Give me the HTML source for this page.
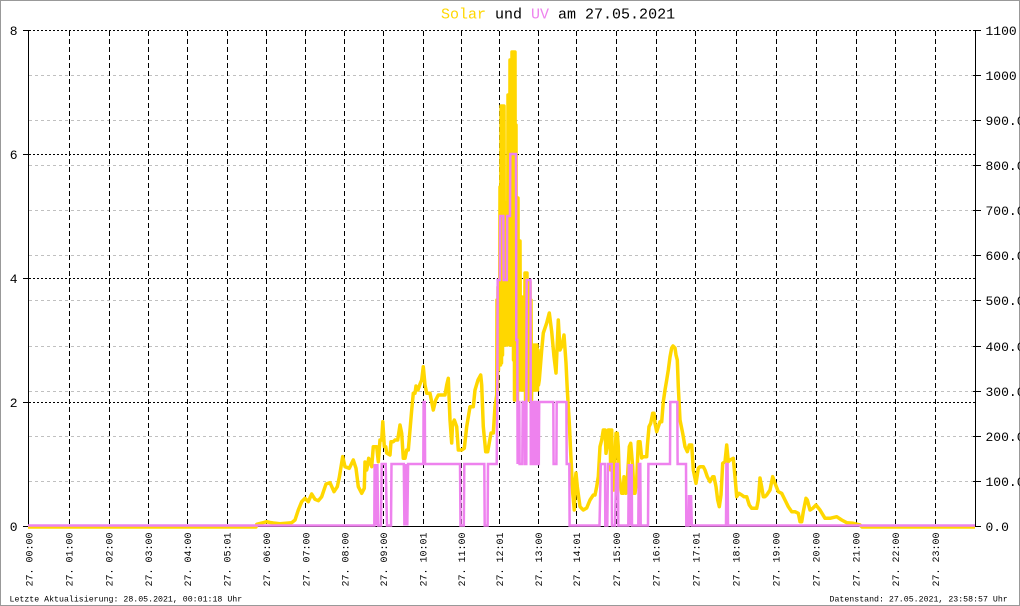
<!DOCTYPE html>
<html><head><meta charset="utf-8"><style>
html,body{margin:0;padding:0;background:#fff;}
svg{display:block;}
text{font-family:"Liberation Mono",monospace;}
</style></head><body>
<svg width="1020" height="606" viewBox="0 0 1020 606" xmlns="http://www.w3.org/2000/svg">
<rect x="0.5" y="0.5" width="1019" height="605" fill="#fff" stroke="#999" stroke-width="1"/>
<text x="441" y="18.5" font-size="15" fill="#000"><tspan fill="#ffd700">Solar</tspan> und <tspan fill="#ee82ee">UV</tspan> am 27.05.2021</text>
<g stroke="#c0c0c0" stroke-width="1" stroke-dasharray="3,3" shape-rendering="crispEdges">
<line x1="29" y1="481.5" x2="975" y2="481.5"/><line x1="29" y1="436.5" x2="975" y2="436.5"/><line x1="29" y1="391.5" x2="975" y2="391.5"/><line x1="29" y1="346.5" x2="975" y2="346.5"/><line x1="29" y1="300.5" x2="975" y2="300.5"/><line x1="29" y1="255.5" x2="975" y2="255.5"/><line x1="29" y1="210.5" x2="975" y2="210.5"/><line x1="29" y1="165.5" x2="975" y2="165.5"/><line x1="29" y1="120.5" x2="975" y2="120.5"/><line x1="29" y1="75.5" x2="975" y2="75.5"/>
</g>
<g stroke="#000" stroke-width="1" stroke-dasharray="2,2" shape-rendering="crispEdges">
<line x1="29" y1="30.5" x2="975" y2="30.5"/><line x1="29" y1="154.5" x2="975" y2="154.5"/><line x1="29" y1="278.5" x2="975" y2="278.5"/><line x1="29" y1="402.5" x2="975" y2="402.5"/>
</g>
<g stroke="#000" stroke-width="1" stroke-dasharray="5,3" shape-rendering="crispEdges">
<line x1="69.5" y1="31" x2="69.5" y2="526"/><line x1="109.5" y1="31" x2="109.5" y2="526"/><line x1="148.5" y1="31" x2="148.5" y2="526"/><line x1="187.5" y1="31" x2="187.5" y2="526"/><line x1="227.5" y1="31" x2="227.5" y2="526"/><line x1="266.5" y1="31" x2="266.5" y2="526"/><line x1="305.5" y1="31" x2="305.5" y2="526"/><line x1="344.5" y1="31" x2="344.5" y2="526"/><line x1="383.5" y1="31" x2="383.5" y2="526"/><line x1="423.5" y1="31" x2="423.5" y2="526"/><line x1="461.5" y1="31" x2="461.5" y2="526"/><line x1="499.5" y1="31" x2="499.5" y2="526"/><line x1="538.5" y1="31" x2="538.5" y2="526"/><line x1="576.5" y1="31" x2="576.5" y2="526"/><line x1="616.5" y1="31" x2="616.5" y2="526"/><line x1="656.5" y1="31" x2="656.5" y2="526"/><line x1="695.5" y1="31" x2="695.5" y2="526"/><line x1="736.5" y1="31" x2="736.5" y2="526"/><line x1="776.5" y1="31" x2="776.5" y2="526"/><line x1="816.5" y1="31" x2="816.5" y2="526"/><line x1="856.5" y1="31" x2="856.5" y2="526"/><line x1="895.5" y1="31" x2="895.5" y2="526"/><line x1="935.5" y1="31" x2="935.5" y2="526"/>
</g>
<g stroke="#000" stroke-width="1" shape-rendering="crispEdges">
<line x1="28.5" y1="30" x2="28.5" y2="527"/>
<line x1="975.5" y1="30" x2="975.5" y2="527"/>
<line x1="28" y1="526.5" x2="976" y2="526.5"/>
<line x1="23" y1="30.5" x2="28" y2="30.5"/><line x1="23" y1="154.5" x2="28" y2="154.5"/><line x1="23" y1="278.5" x2="28" y2="278.5"/><line x1="23" y1="402.5" x2="28" y2="402.5"/><line x1="23" y1="526.5" x2="28" y2="526.5"/>
<line x1="973" y1="30.5" x2="981" y2="30.5"/><line x1="973" y1="75.5" x2="981" y2="75.5"/><line x1="973" y1="120.5" x2="981" y2="120.5"/><line x1="973" y1="165.5" x2="981" y2="165.5"/><line x1="973" y1="210.5" x2="981" y2="210.5"/><line x1="973" y1="255.5" x2="981" y2="255.5"/><line x1="973" y1="300.5" x2="981" y2="300.5"/><line x1="973" y1="346.5" x2="981" y2="346.5"/><line x1="973" y1="391.5" x2="981" y2="391.5"/><line x1="973" y1="436.5" x2="981" y2="436.5"/><line x1="973" y1="481.5" x2="981" y2="481.5"/><line x1="973" y1="526.5" x2="981" y2="526.5"/>
</g>
<g font-size="13" fill="#000" text-anchor="end">
<text x="17.5" y="35">8</text><text x="17.5" y="159">6</text><text x="17.5" y="283">4</text><text x="17.5" y="407">2</text><text x="17.5" y="531">0</text>
</g>
<g font-size="13" fill="#000">
<text x="985.5" y="35">1100</text><text x="985.5" y="80">1000</text><text x="985.5" y="125">900.0</text><text x="985.5" y="170">800.0</text><text x="985.5" y="215">700.0</text><text x="985.5" y="260">600.0</text><text x="985.5" y="305">500.0</text><text x="985.5" y="351">400.0</text><text x="985.5" y="396">300.0</text><text x="985.5" y="441">200.0</text><text x="985.5" y="486">100.0</text><text x="985.5" y="531">0.0</text>
</g>
<polyline fill="none" stroke="#ffd700" stroke-width="3.5" stroke-linejoin="round" points="28,527 256,527 256.7,524.3 262,523 266.7,521.7 270,522.5 273.3,523 280,523.7 291.7,522.7 295,520 298.3,510 301.7,501.7 305,498.3 308.3,501.7 311.7,494 315,499.3 318.3,500.7 321.7,496.7 326,484 330,482.7 334,491.7 337.3,486.7 339.3,477.3 342.7,456.7 345,466.7 349.3,468.3 353.3,460 356,468.3 358.3,486.7 361.7,493.3 364.3,488.3 365,462 366.7,470 368.7,458.3 371.7,466.7 373.3,446.7 376.7,446.7 378.3,461.7 380,440 381.7,440 382.8,421.7 384.3,446.7 385.7,446.7 386.7,453 390,455 391,441.7 393.3,441.7 395,440 397.7,440 400,425 401.7,433.3 403.3,458.3 405,458.3 406.7,450 408.3,450 410,430 411.7,410 413.3,393.3 415,393.3 416,386 418,390 420,384 421.7,380 423.3,366.7 425,385 426.7,393.3 430,393.3 433.3,410 435.7,400 438.3,395 445,395 446.7,385 448.3,378.3 450,420 451.7,443 452.5,425 454.3,420 456.7,426.7 458.3,450 461.7,450 464.3,448.3 466.7,426.7 470,406.7 473.3,406.7 475,390 478,380 480.7,375 481.7,385 483.3,426.7 485.7,451.7 487.7,451.7 491,433 493.3,433 495,406.7 496.7,395 497,300 497.5,390 498,287 498.5,370 499,287 499.5,365 500,187 500.5,365 501,106 501.5,363 502,106 502.5,355 503,106 503.5,345 504,106 504.5,345 505,226 505.5,343 506,203 506.5,345 507,203 507.5,345 508,95 508.5,340 509,95 509.5,340 510,60 510.5,345 511,60 511.5,340 512,52 512.5,340 513,52 513.5,360 514,52 514.5,400 515,52 515.5,400 516,125 516.5,400 517,198 517.5,400 518,198 518.5,390 519,241 519.5,390 520,241 520.5,390 521,297 521.5,390 522,297 522.5,390 523,300 523.5,380 524,297 524.5,390 525,273 525.5,400 526,273 526.5,400 527,273 527.5,400 528,282 528.5,400 529,282 529.5,400 530,282 530.5,400 531,300 531.5,400 532,345 532.5,390 533,345 533.5,390 534,350 534.5,390 535,345 535.5,390 536,350 536.5,390 537,345 537.5,390 538,350 538.5,385 539.3,380 541.7,350 543.3,333 546.7,323 549.3,313 551.7,331.7 554,356.7 556,373 558.3,320 560,350 562.3,345 564,335 566,363 567.3,390 569.3,423 570.7,453 572.7,493 574.3,510 575.3,480 576,473 577.3,486.7 580,506.7 583.3,510 586.7,508 590,500 593.3,495 595,495 596.7,486.7 598.3,476.7 600,446.7 601.7,440 603.3,430 605,430 606,453.3 607.3,445 608.3,430 610,430 610.7,470 611.7,430 612.7,480 614,490 616,433.3 617.3,433.3 618.3,446.7 619.3,476.7 621.7,493.3 623.3,493.3 624,476.7 626,493.3 627.3,480 629.3,446.7 630.7,443.3 632.7,466.7 634,493.3 635,493.3 636.7,480 638.3,441.7 640,441.7 641.7,458 643.3,456.7 646.7,456.7 647.3,446.7 649,426.7 650.7,423.3 652.7,413.3 654,413.3 655,423.3 656.7,431.7 658.3,426.7 660,421.7 661.7,421.7 663.3,401.7 665,390 666.7,380 668.3,370 670,357 671.7,348 673,346 675,348 676,355 677.3,360 678.3,386.7 680,420 682.7,433.3 685,446.7 687.3,451.7 689.3,445 691.7,445 693.3,470 696,483.3 698.3,468.3 700,466.7 703.3,466.7 705,470 707.3,476.7 710,481.7 712.7,476.7 714,476.7 716,486.7 717.7,500 719.3,506.7 721,495 722.7,463.3 725,461.7 726.7,445 728.3,461.7 730,460 733.3,458.3 735,476.7 736.7,496.7 739,493.3 741.7,495 744,496.7 746.7,496.7 749.3,505 751.7,508.3 756.7,508.3 758.3,500 760,478 761.7,487 763.3,496.7 765,496.7 766.7,495 770,490 772.7,476.7 775,483.3 778.3,491.7 781.7,493.3 785,500 788.3,506.7 791.7,511.7 795,511.7 798.3,513.3 800,521.7 801.7,521.7 803.3,511.7 806,498.3 807.3,500 810,510 812.7,508.3 816,505 820,510 825,518.3 830,518.3 836.7,516.7 841.7,520 846.7,522.7 853.3,523.3 860,525 862,527 975,527"/>
<polyline fill="none" stroke="#ee82ee" stroke-width="2.5" points="28,525.5 374.3,525.5 374.6,464 375.3,525.5 376,464 376.7,525.5 377.4,464 378.2,525.5 381,525.5 381.7,464 385.7,464 386.3,495 387,525.5 391,525.5 391.5,464 403.8,464 404.4,525.5 405.1,464 405.8,525.5 406.5,464 407.3,525.5 408.1,464 423.3,464 423.6,402 424.8,402 425.1,464 460,464 460.5,525.5 463.8,525.5 464.3,464 484.3,464 484.7,525.5 487.6,525.5 488,464 496.7,464 497.3,403 497.7,280 499.8,280 500.2,216 503.3,216 503.6,280 506.8,280 507.2,216 510,216 510.3,154 516,154 516.3,340 517.3,340 517.6,464 518,402 519.3,402 519.6,464 522.3,464 522.7,402 524.7,402 525,464 526.3,464 526.7,280 530.5,280 530.8,464 532.4,464 532.7,402 534,402 534.3,464 536,464 536.3,402 537.3,402 537.6,464 538.8,464 539.2,402 553.3,402 553.6,464 556.4,464 556.7,402 566.4,402 566.7,464 569.3,464 569.6,525.5 599.5,525.5 600.8,464 605,464 605.3,525.5 607.3,525.5 608,464 611.7,464 612,525.5 615,525.5 616.3,464 618,464 618.3,525.5 628.3,525.5 628.8,464 629.5,525.5 630.2,464 631,525.5 631.7,464 632,525.5 638.3,525.5 638.8,464 640.3,464 640.7,525.5 648,525.5 648.4,464 670,464 670.3,402 677.3,402 677.6,464 686,464 686.3,525.5 688.5,525.5 689,495 689.8,525.5 691,495 691.8,525.5 726,525.5 726.4,464 727.6,464 728,525.5 975,525.5"/>
<g font-size="10" fill="#000">
<text transform="translate(32.5,586.5) rotate(-90)">27. 00:00</text>
<text transform="translate(72.5,586.5) rotate(-90)">27. 01:00</text>
<text transform="translate(112.5,586.5) rotate(-90)">27. 02:00</text>
<text transform="translate(152,586.5) rotate(-90)">27. 03:00</text>
<text transform="translate(191,586.5) rotate(-90)">27. 04:00</text>
<text transform="translate(230.5,586.5) rotate(-90)">27. 05:01</text>
<text transform="translate(270,586.5) rotate(-90)">27. 06:00</text>
<text transform="translate(309.5,586.5) rotate(-90)">27. 07:00</text>
<text transform="translate(348.5,586.5) rotate(-90)">27. 08:00</text>
<text transform="translate(387,586.5) rotate(-90)">27. 09:00</text>
<text transform="translate(426.5,586.5) rotate(-90)">27. 10:01</text>
<text transform="translate(465,586.5) rotate(-90)">27. 11:00</text>
<text transform="translate(503,586.5) rotate(-90)">27. 12:01</text>
<text transform="translate(542,586.5) rotate(-90)">27. 13:00</text>
<text transform="translate(580,586.5) rotate(-90)">27. 14:01</text>
<text transform="translate(620,586.5) rotate(-90)">27. 15:00</text>
<text transform="translate(659.5,586.5) rotate(-90)">27. 16:00</text>
<text transform="translate(699.5,586.5) rotate(-90)">27. 17:01</text>
<text transform="translate(739.5,586.5) rotate(-90)">27. 18:00</text>
<text transform="translate(779.5,586.5) rotate(-90)">27. 19:00</text>
<text transform="translate(819.5,586.5) rotate(-90)">27. 20:00</text>
<text transform="translate(859.5,586.5) rotate(-90)">27. 21:00</text>
<text transform="translate(899,586.5) rotate(-90)">27. 22:00</text>
<text transform="translate(939,586.5) rotate(-90)">27. 23:00</text>
</g>
<g font-size="8.25" fill="#000">
<text x="9.5" y="601.5">Letzte Aktualisierung: 28.05.2021, 00:01:18 Uhr</text>
<text x="829.5" y="601.5">Datenstand: 27.05.2021, 23:58:57 Uhr</text>
</g>
</svg>
</body></html>
